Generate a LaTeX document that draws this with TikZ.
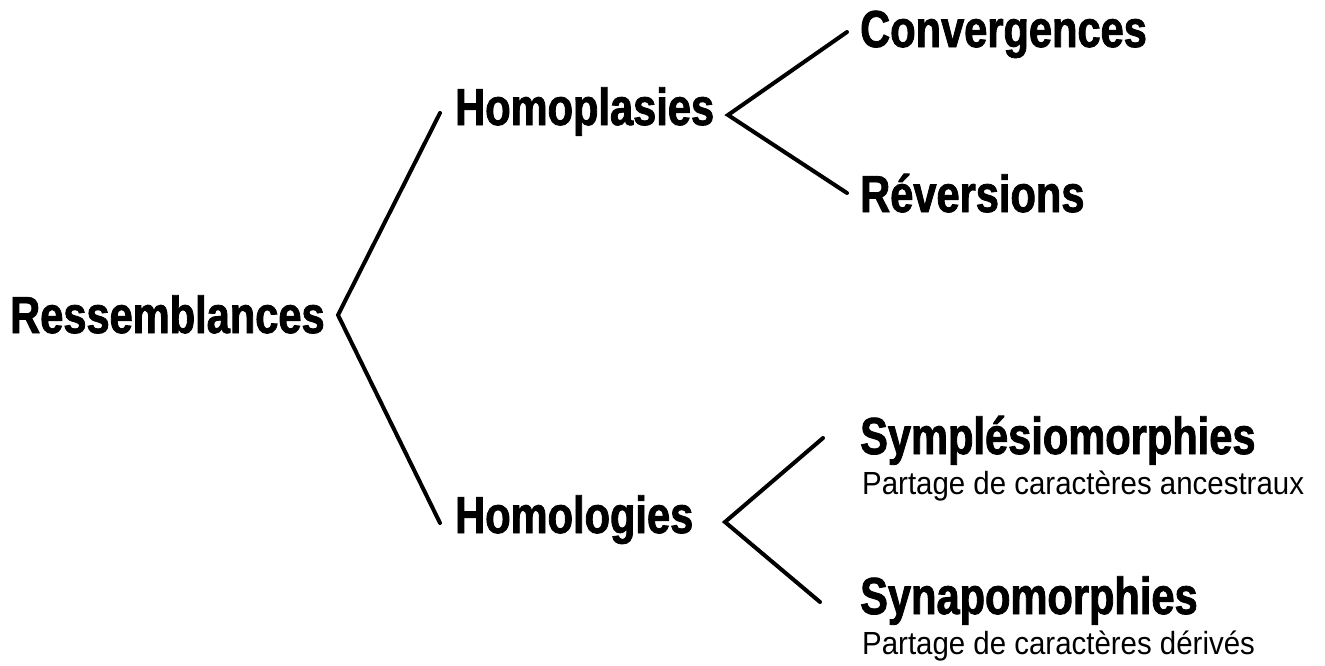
\documentclass[tikz,border=0pt]{standalone}
\usepackage{fontspec}
\newfontfamily\heavyfont{Liberation Sans}[FakeStretch=0.80, FakeBold=1.6]
\newfontfamily\notefont{Liberation Sans}[FakeStretch=0.92]
\begin{document}
\begin{tikzpicture}[x=1pt,y=-1pt,
  term/.style={anchor=base west, inner sep=0pt, font=\heavyfont\bfseries\fontsize{52}{52}\selectfont},
  note/.style={anchor=base west, inner sep=0pt, font=\notefont\fontsize{32}{32}\selectfont},
  branch/.style={line width=4pt, line cap=round, line join=miter}]
\useasboundingbox (0,0) rectangle (1325,665);

% labels of the classification
\node[term] (res) at (10,333) {Ressemblances};
\node[term] (hpl) at (455,125) {Homoplasies};
\node[term] (hlg) at (455,533) {Homologies};
\node[term] (cvg) at (860,47) {Convergences};
\node[term] (rev) at (860,212) {Réversions};
\node[term] (sym) at (860,454) {Symplésiomorphies};
\node[note] (symnote) at (862,494) {Partage de caractères ancestraux};
\node[term] (syn) at (860,614) {Synapomorphies};
\node[note] (synnote) at (862,654) {Partage de caractères dérivés};

% branch points and branch tips
\coordinate (j0) at (338,315);
\coordinate (t-hpl) at (440,113);
\coordinate (t-hlg) at (440,523);
\coordinate (j1) at (728,115);
\coordinate (t-cvg) at (847,32);
\coordinate (t-rev) at (847,193);
\coordinate (j2) at (725,522);
\coordinate (t-sym) at (823,438);
\coordinate (t-syn) at (820,602);

\draw[branch] (t-hpl) -- (j0) -- (t-hlg);
\draw[branch] (t-cvg) -- (j1) -- (t-rev);
\draw[branch] (t-sym) -- (j2) -- (t-syn);
\end{tikzpicture}
\end{document}
